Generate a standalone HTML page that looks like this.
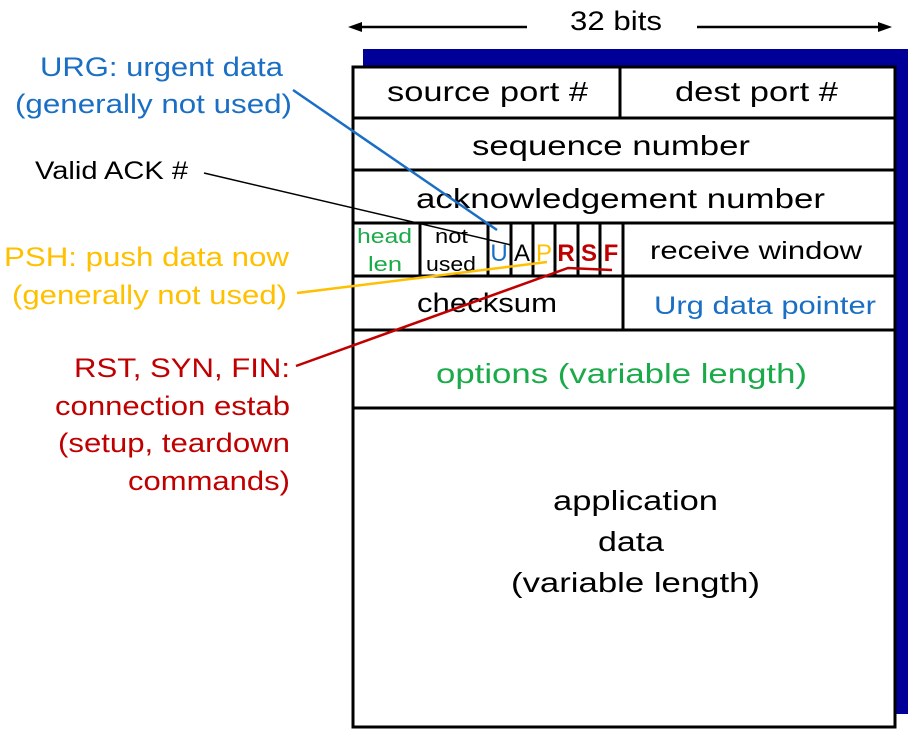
<!DOCTYPE html>
<html><head><meta charset="utf-8"><style>
body{margin:0;background:#fff;}
svg{display:block;font-family:"Liberation Sans",Arial,sans-serif;}
</style></head><body>
<svg width="921" height="743" viewBox="0 0 921 743">
<rect x="363" y="49" width="545" height="665" fill="#000099"/>
<rect x="353" y="67" width="542" height="660" fill="#fff" stroke="#000" stroke-width="3"/>
<g stroke="#000" stroke-width="3">
<line x1="353" y1="118" x2="895" y2="118"/>
<line x1="353" y1="170" x2="895" y2="170"/>
<line x1="353" y1="223" x2="895" y2="223"/>
<line x1="353" y1="276" x2="895" y2="276"/>
<line x1="353" y1="330" x2="895" y2="330"/>
<line x1="353" y1="408" x2="895" y2="408"/>
<line x1="620" y1="67" x2="620" y2="118"/>
<line x1="420" y1="223" x2="420" y2="276"/>
<line x1="488" y1="223" x2="488" y2="276"/>
<line x1="511" y1="223" x2="511" y2="276"/>
<line x1="533" y1="223" x2="533" y2="276"/>
<line x1="555" y1="223" x2="555" y2="276"/>
<line x1="578" y1="223" x2="578" y2="276"/>
<line x1="600" y1="223" x2="600" y2="276"/>
<line x1="623" y1="223" x2="623" y2="330"/>
</g>
<g stroke="#000" stroke-width="2.5">
<line x1="355" y1="27" x2="527" y2="27"/>
<line x1="697" y1="27" x2="880" y2="27"/>
</g>
<polygon points="348,27 362,22 362,32" fill="#000"/>
<polygon points="892,27 878,22 878,32" fill="#000"/>
<g lengthAdjust="spacingAndGlyphs">
<text x="570" y="30" font-size="27" textLength="92" lengthAdjust="spacingAndGlyphs">32 bits</text>
<text x="387" y="101" font-size="28" textLength="201" lengthAdjust="spacingAndGlyphs">source port #</text>
<text x="675" y="101" font-size="28" textLength="163" lengthAdjust="spacingAndGlyphs">dest port #</text>
<text x="472" y="155" font-size="28" textLength="278" lengthAdjust="spacingAndGlyphs">sequence number</text>
<text x="416" y="208" font-size="28" textLength="409" lengthAdjust="spacingAndGlyphs">acknowledgement number</text>
<text x="417" y="312" font-size="27" textLength="140" lengthAdjust="spacingAndGlyphs">checksum</text>
<text x="553" y="510" font-size="28" textLength="165" lengthAdjust="spacingAndGlyphs">application</text>
<text x="598" y="551" font-size="28" textLength="66" lengthAdjust="spacingAndGlyphs">data</text>
<text x="511" y="592" font-size="28" textLength="249" lengthAdjust="spacingAndGlyphs">(variable length)</text>
<text x="650" y="259" font-size="25" textLength="212" lengthAdjust="spacingAndGlyphs">receive window</text>
<text x="654" y="314" font-size="25" fill="#1a6fc4" textLength="222" lengthAdjust="spacingAndGlyphs">Urg data pointer</text>
<text x="436" y="383" font-size="28" fill="#1aaa4a" textLength="371" lengthAdjust="spacingAndGlyphs">options (variable length)</text>
<text x="357" y="243" font-size="20" fill="#1aaa4a" textLength="55" lengthAdjust="spacingAndGlyphs">head</text>
<text x="368" y="271" font-size="20" fill="#1aaa4a" textLength="34" lengthAdjust="spacingAndGlyphs">len</text>
<text x="435" y="243" font-size="20" textLength="33" lengthAdjust="spacingAndGlyphs">not</text>
<text x="426" y="271" font-size="20" textLength="50" lengthAdjust="spacingAndGlyphs">used</text>
</g>
<text x="499" y="261" font-size="24" text-anchor="middle" fill="#1a6fc4">U</text>
<text x="522" y="261" font-size="24" text-anchor="middle">A</text>
<text x="544" y="261" font-size="24" text-anchor="middle" fill="#ffc000">P</text>
<text x="566" y="261" font-size="24" font-weight="bold" text-anchor="middle" fill="#c00000">R</text>
<text x="589" y="261" font-size="24" font-weight="bold" text-anchor="middle" fill="#c00000">S</text>
<text x="611" y="261" font-size="24" font-weight="bold" text-anchor="middle" fill="#c00000">F</text>
<line x1="293" y1="90" x2="497" y2="230" stroke="#1a6fc4" stroke-width="2.5"/>
<line x1="204" y1="173" x2="511" y2="245" stroke="#000" stroke-width="1.5"/>
<line x1="297" y1="293" x2="547" y2="262" stroke="#ffc000" stroke-width="2.5"/>
<polyline points="296,366 568,268 612,270" fill="none" stroke="#c00000" stroke-width="2.5"/>
<g font-size="27">
<text x="40" y="76" fill="#1a6fc4" textLength="243" lengthAdjust="spacingAndGlyphs">URG: urgent data</text>
<text x="15" y="113" fill="#1a6fc4" textLength="277" lengthAdjust="spacingAndGlyphs">(generally not used)</text>
<text x="35" y="179" fill="#000" font-size="25" textLength="153" lengthAdjust="spacingAndGlyphs">Valid ACK #</text>
<text x="4" y="266" fill="#ffc000" textLength="285" lengthAdjust="spacingAndGlyphs">PSH: push data now</text>
<text x="12" y="304" fill="#ffc000" textLength="275" lengthAdjust="spacingAndGlyphs">(generally not used)</text>
<text x="74" y="377" fill="#c00000" textLength="216" lengthAdjust="spacingAndGlyphs">RST, SYN, FIN:</text>
<text x="55" y="415" fill="#c00000" textLength="235" lengthAdjust="spacingAndGlyphs">connection estab</text>
<text x="58" y="452" fill="#c00000" textLength="232" lengthAdjust="spacingAndGlyphs">(setup, teardown</text>
<text x="128" y="490" fill="#c00000" textLength="162" lengthAdjust="spacingAndGlyphs">commands)</text>
</g>
</svg>
</body></html>
